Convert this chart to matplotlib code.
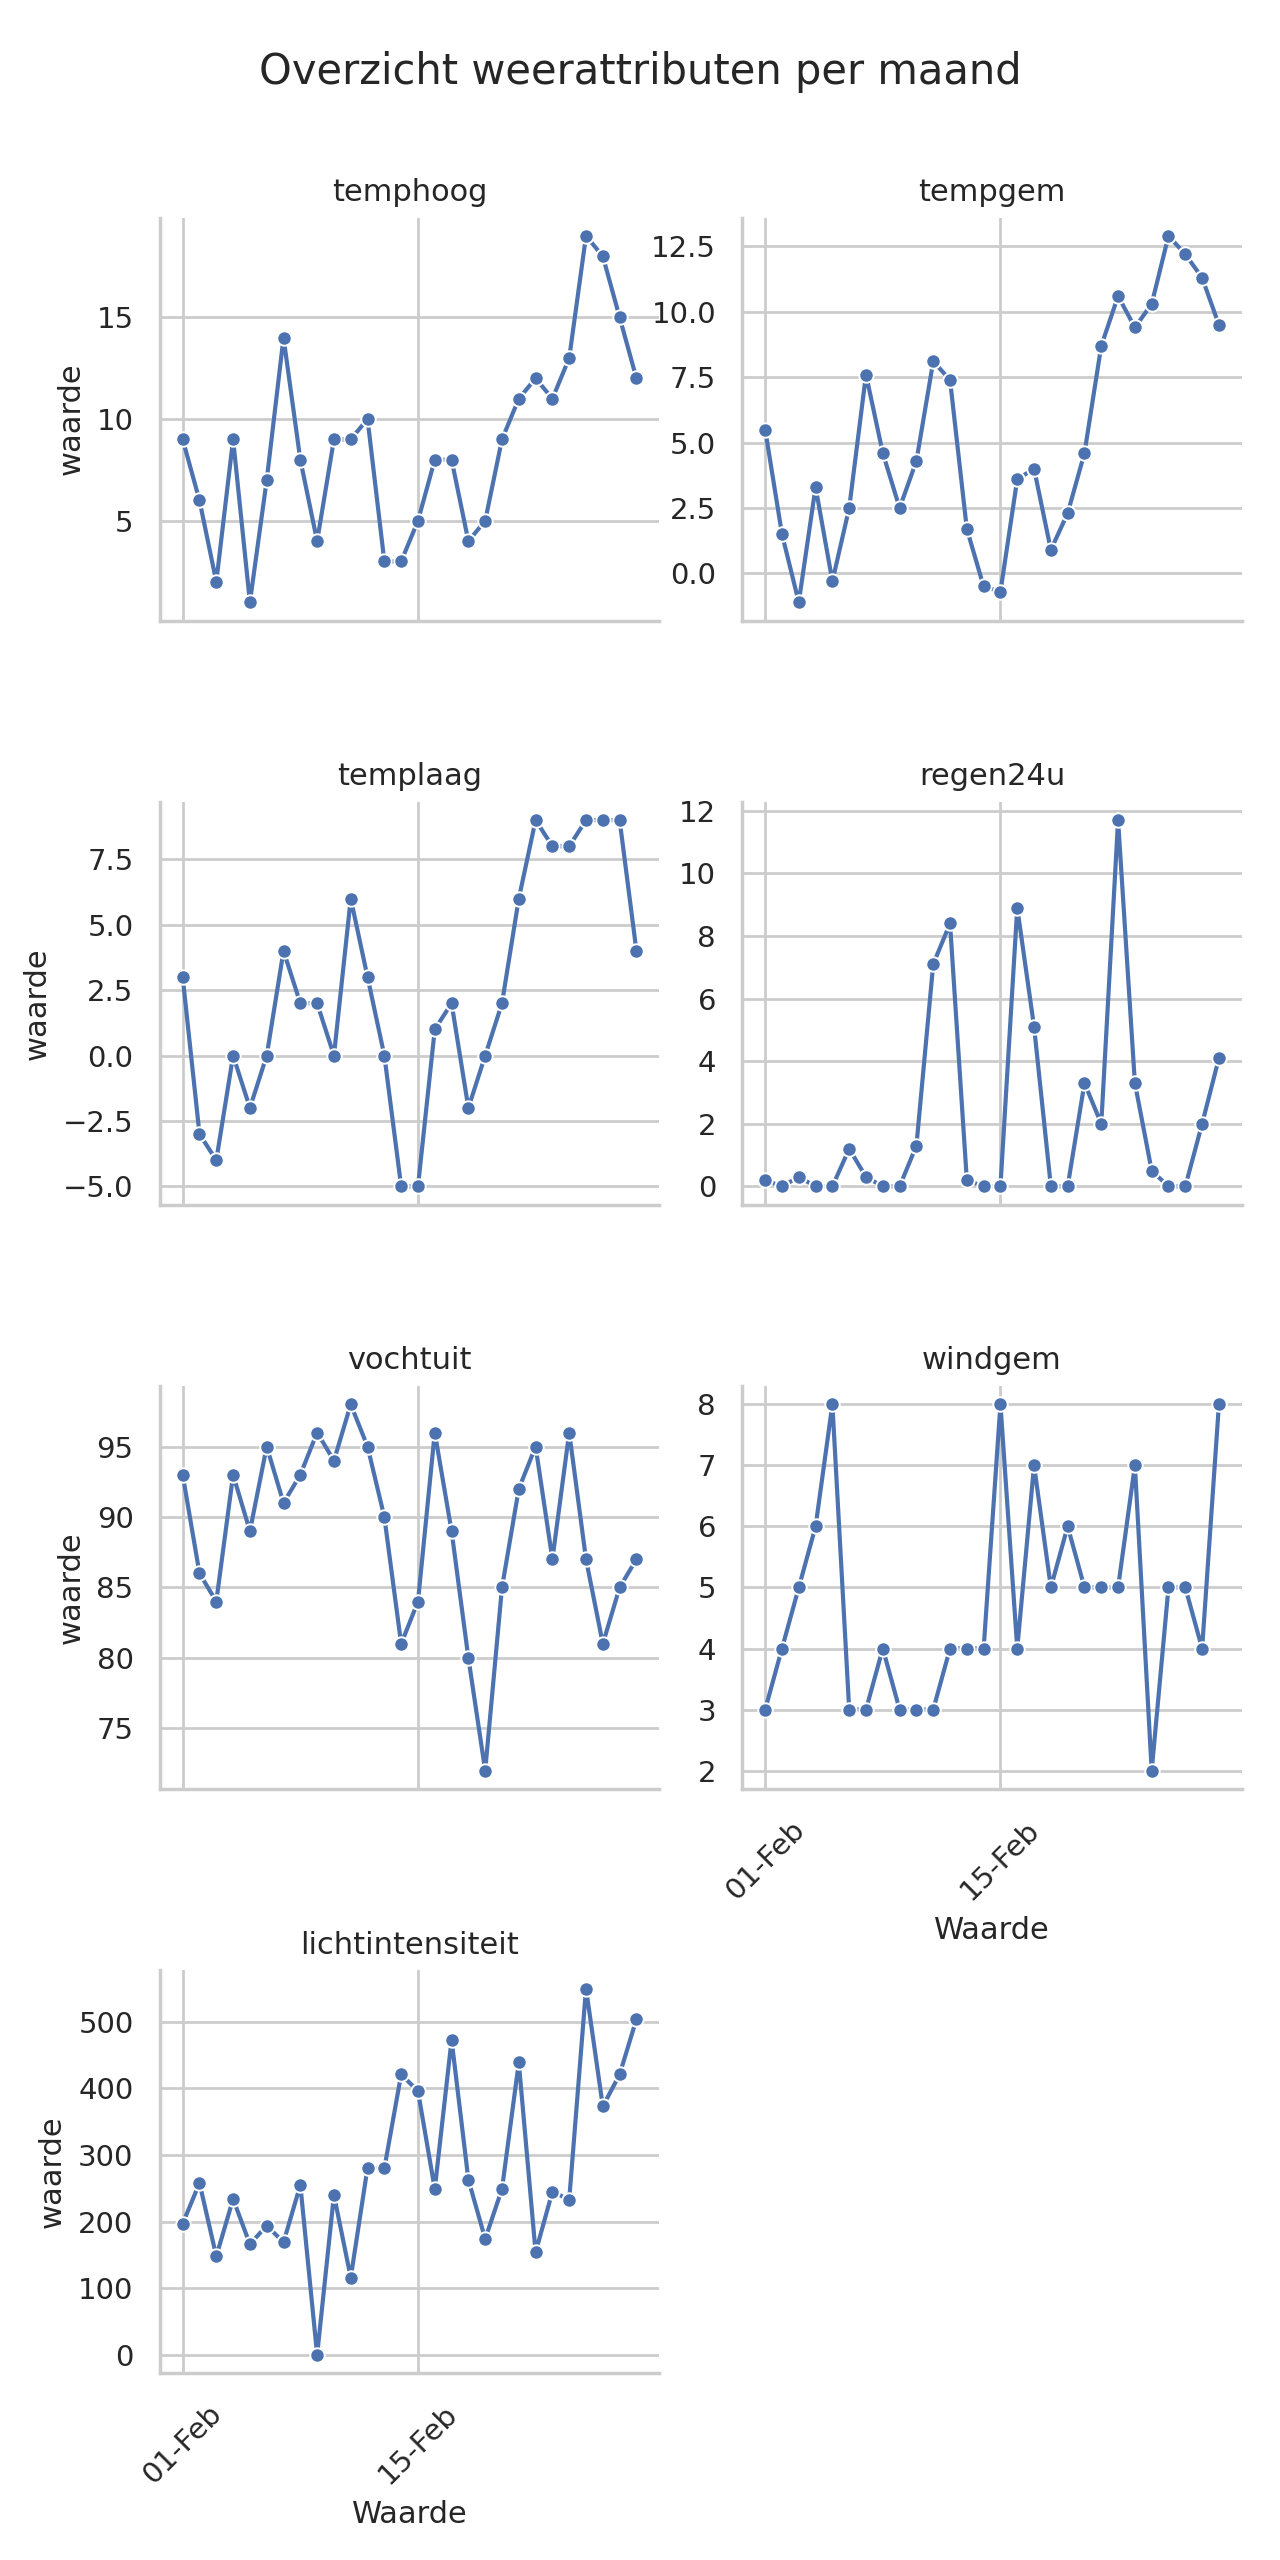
import matplotlib
matplotlib.use("Agg")
import matplotlib.pyplot as plt
import matplotlib.dates as mdates
from matplotlib.ticker import MultipleLocator
import pandas as pd
import seaborn as sns

# dagen in februari
dagen = pd.date_range("2023-02-01", "2023-02-28", freq="D")

temphoog = [9, 6, 2, 9, 1, 7, 14, 8, 4, 9, 9, 10, 3, 3, 5, 8, 8, 4, 5, 9,
            11, 12, 11, 13, 19, 18, 15, 12]
tempgem = [5.5, 1.5, -1.1, 3.3, -0.3, 2.5, 7.6, 4.6, 2.5, 4.3, 8.1, 7.4, 1.7,
           -0.5, -0.7, 3.6, 4.0, 0.9, 2.3, 4.6, 8.7, 10.6, 9.4, 10.3, 12.9,
           12.2, 11.3, 9.5]
templaag = [3, -3, -4, 0, -2, 0, 4, 2, 2, 0, 6, 3, 0, -5, -5, 1, 2, -2, 0, 2,
            6, 9, 8, 8, 9, 9, 9, 4]
regen24u = [0.2, 0.0, 0.3, 0.0, 0.0, 1.2, 0.3, 0.0, 0.0, 1.3, 7.1, 8.4, 0.2,
            0.0, 0.0, 8.9, 5.1, 0.0, 0.0, 3.3, 2.0, 11.7, 3.3, 0.5, 0.0, 0.0,
            2.0, 4.1]
vochtuit = [93, 86, 84, 93, 89, 95, 91, 93, 96, 94, 98, 95, 90, 81, 84, 96, 89,
            80, 72, 85, 92, 95, 87, 96, 87, 81, 85, 87]
windgem = [3, 4, 5, 6, 8, 3, 3, 4, 3, 3, 3, 4, 4, 4, 8, 4, 7, 5, 6, 5, 5, 5, 7,
           2, 5, 5, 4, 8]
lichtintensiteit = [197, 258, 148, 234, 166, 194, 169, 255, 0, 240, 116, 281,
                    280, 421, 396, 249, 473, 263, 174, 249, 439, 154, 245, 233,
                    550, 373, 421, 504]

attributen = ["temphoog", "tempgem", "templaag", "regen24u", "vochtuit",
              "windgem", "lichtintensiteit"]
waarden = [temphoog, tempgem, templaag, regen24u, vochtuit, windgem,
           lichtintensiteit]
# tickafstand op de y-as per paneel
y_stap = [5, 2.5, 2.5, 2, 5, 1, 100]

sns.set_theme(style="whitegrid")
plt.rcParams['font.family'] = ['DejaVu Sans']

fig, axes = plt.subplots(4, 2, figsize=(6.4, 12.8), dpi=200, sharex=True)
fig.subplots_adjust(left=0.125, right=0.97, top=0.915, bottom=0.073,
                    wspace=0.167, hspace=0.45)
axes = axes.flatten()

for i, (naam, y) in enumerate(zip(attributen, waarden)):
    ax = axes[i]
    ax.plot(dagen, y, color="#4C72B0", linewidth=1.5, marker="o",
            markersize=5.2, markeredgecolor="white", markeredgewidth=0.7)
    ax.yaxis.set_major_locator(MultipleLocator(y_stap[i]))
    ax.set_title(naam, fontsize=11)
    ax.tick_params(axis="both", labelsize=10.5)
    sns.despine(ax=ax)
    if i % 2 == 0:
        ax.set_ylabel("waarde", fontsize=11)

axes[7].remove()

# alleen 01-Feb en 15-Feb als tick
axes[0].set_xticks(dagen[::14])
axes[0].xaxis.set_major_formatter(mdates.DateFormatter("%d-%b"))

# onderste paneel per kolom krijgt datumlabels
for ax in axes[5:7]:
    ax.xaxis.set_tick_params(labelbottom=True)
    ax.set_xlabel("Waarde", fontsize=11)
    plt.setp(ax.get_xticklabels(), rotation=45)

fig.suptitle("Overzicht weerattributen per maand", fontsize=15, y=0.98)
fig.savefig("out.png", dpi=200)
